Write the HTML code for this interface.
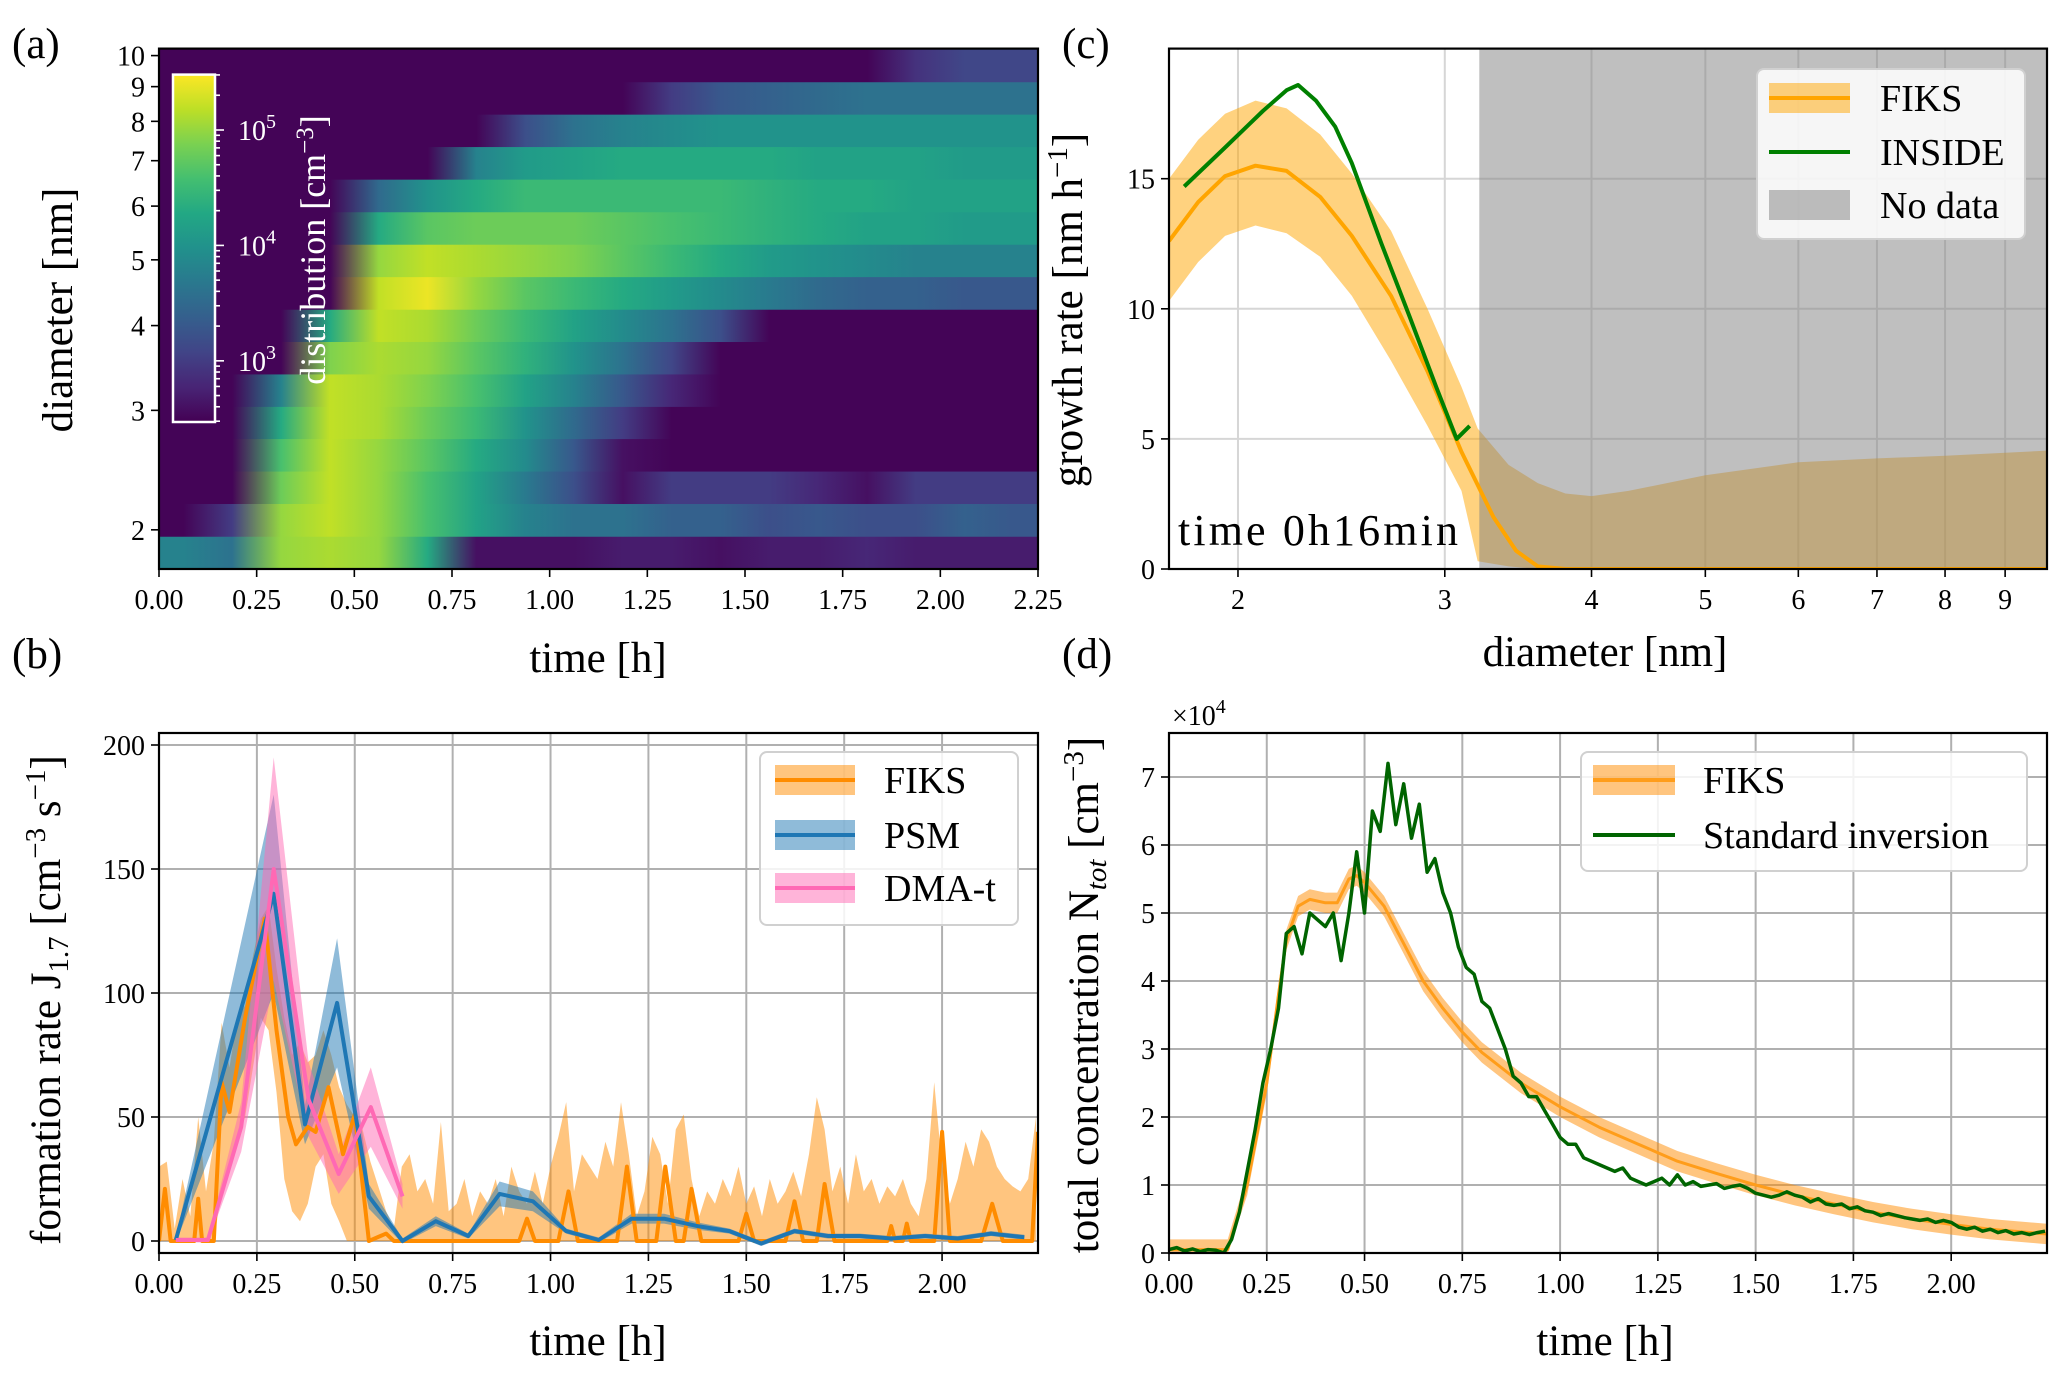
<!DOCTYPE html>
<html><head><meta charset="utf-8">
<style>
html,body{margin:0;padding:0;background:#fff;}
svg{display:block;font-family:"Liberation Serif",serif;}
</style></head>
<body>
<svg id="fig" xmlns="http://www.w3.org/2000/svg" width="2067" height="1381" viewBox="0 0 2067 1381"></svg>
<script>
// ---------- Panel (a) heatmap data ----------
const heatD = [1.85,2.07,2.31,2.58,2.88,3.21,3.59,4.0,4.47,4.99,5.57,6.22,6.95,7.76,8.66,9.67];
const heatT = [0.0625,0.1875,0.3125,0.4375,0.5625,0.6875,0.8125,0.9375,1.0625,1.1875,1.3125,1.4375,1.5625,1.6875,1.8125,1.9375,2.0625,2.1875];
const heatLog = [
[3.8,3.6,5.0,5.1,5.0,4.3,2.6,2.6,2.6,2.7,2.7,2.6,2.7,2.7,2.8,2.7,2.7,2.7],
[2.5,3.0,5.0,5.2,5.0,4.6,4.2,3.8,3.6,3.6,3.4,3.4,3.2,3.3,3.2,3.2,3.4,3.3],
[2.5,2.5,4.8,5.2,5.0,4.6,4.2,3.7,3.2,2.6,3.0,3.0,3.0,2.8,2.6,3.0,3.0,3.0],
[2.5,2.5,4.6,5.2,5.0,4.7,4.3,3.9,3.3,2.6,2.5,2.5,2.5,2.5,2.5,2.5,2.5,2.5],
[2.5,2.5,4.3,5.2,5.1,4.8,4.5,4.0,3.5,3.0,2.5,2.5,2.5,2.5,2.5,2.5,2.5,2.5],
[2.5,2.5,3.8,5.2,5.1,4.9,4.6,4.2,3.8,3.3,2.8,2.5,2.5,2.5,2.5,2.5,2.5,2.5],
[2.5,2.5,2.5,4.9,5.1,5.0,4.7,4.4,4.0,3.6,3.1,2.5,2.5,2.5,2.5,2.5,2.5,2.5],
[2.5,2.5,2.5,4.3,5.2,5.1,4.8,4.5,4.2,3.9,3.6,3.2,2.5,2.5,2.5,2.5,2.5,2.5],
[2.5,2.5,2.5,2.5,5.2,5.4,5.0,4.7,4.5,4.3,4.1,3.9,3.7,3.5,3.4,3.4,3.3,3.3],
[2.5,2.5,2.5,2.5,5.0,5.2,5.1,5.0,4.9,4.7,4.5,4.3,4.1,4.0,3.9,3.8,3.8,3.8],
[2.5,2.5,2.5,2.5,4.3,4.7,4.8,4.8,4.8,4.7,4.6,4.5,4.4,4.3,4.2,4.2,4.1,4.1],
[2.5,2.5,2.5,2.5,3.5,4.0,4.3,4.5,4.5,4.5,4.5,4.5,4.4,4.3,4.3,4.2,4.2,4.2],
[2.5,2.5,2.5,2.5,2.5,2.5,3.8,4.1,4.2,4.3,4.3,4.3,4.3,4.2,4.2,4.2,4.1,4.1],
[2.5,2.5,2.5,2.5,2.5,2.5,2.5,3.2,3.6,3.8,3.9,4.0,4.0,4.0,4.0,4.0,4.0,4.0],
[2.5,2.5,2.5,2.5,2.5,2.5,2.5,2.5,2.5,2.5,3.0,3.3,3.4,3.5,3.6,3.6,3.6,3.6],
[2.5,2.5,2.5,2.5,2.5,2.5,2.5,2.5,2.5,2.5,2.5,2.5,2.5,2.5,2.5,2.9,3.1,3.1]
];
const aXTicks = [0,0.25,0.5,0.75,1.0,1.25,1.5,1.75,2.0,2.25];
const aXLabels = ["0.00","0.25","0.50","0.75","1.00","1.25","1.50","1.75","2.00","2.25"];
const aYTicks = [2,3,4,5,6,7,8,9,10];
const cbTicks = [3,4,5];

// ---------- Panel (b) ----------
const bandStep = 0.02;
const fiksBHi = [30,32,5,25,10,50,20,40,88,70,90,95,115,130,135,110,90,75,80,72,75,85,75,62,55,50,45,32,22,12,5,30,35,20,25,15,48,12,15,25,10,20,15,25,10,30,20,15,28,15,30,42,56,20,35,30,25,40,30,56,35,10,20,42,35,15,45,51,25,10,20,15,25,18,30,15,22,10,25,15,20,28,18,35,58,45,20,30,15,35,20,25,15,22,18,25,15,10,25,64,30,15,25,40,30,45,40,30,25,22,20,25,50];
const fiksBLo = [0,0,0,0,0,0,0,0,20,30,40,50,70,90,85,60,25,12,8,15,30,35,15,8,0,0,0,0,0,0,0,0,0,0,0,0,0,0,0,0,0,0,0,0,0,0,0,0,0,0,0,0,0,0,0,0,0,0,0,0,0,0,0,0,0,0,0,0,0,0,0,0,0,0,0,0,0,0,0,0,0,0,0,0,0,0,0,0,0,0,0,0,0,0,0,0,0,0,0,0,0,0,0,0,0,0,0,0,0,0,0,0,0];
const fiksBT = [0,0.015,0.03,0.09,0.1,0.11,0.14,0.16,0.18,0.22,0.27,0.3,0.33,0.35,0.38,0.4,0.433,0.47,0.5,0.536,0.58,0.6,0.92,0.94,0.96,1.02,1.046,1.07,1.17,1.195,1.22,1.27,1.293,1.32,1.34,1.36,1.385,1.48,1.5,1.52,1.6,1.623,1.645,1.68,1.7,1.725,1.86,1.87,1.88,1.9,1.91,1.92,1.98,2.0,2.02,2.1,2.128,2.155,2.23,2.245];
const fiksBV = [0,21,0,0,17,0,0,64,52,90,130,85,50,39,46,44,62,35,51,0,3,0,0,9,0,0,20,0,0,30,0,0,30,0,0,21,0,0,11,0,0,16,0,0,23,0,0,6,0,0,7,0,0,44,0,0,15,0,0,44];
const psmT = [0.043,0.293,0.373,0.455,0.536,0.622,0.707,0.79,0.87,0.955,1.04,1.123,1.207,1.29,1.375,1.457,1.538,1.623,1.709,1.79,1.87,1.957,2.04,2.125,2.21];
const psmV = [0.4,140,47,96,18,0,8,2,19,16,4,0.4,9,9,6,4,-1,4,2,2,1,2,1,3,1.5];
const psmE = [1,40,8,26,5,1,2,1,5,4,1,1,2,2,1.5,1,1,1,1,1,1,1,1,1,1];
const dmaT = [0.043,0.125,0.21,0.293,0.382,0.459,0.541,0.622];
const dmaV = [0.4,0.4,46,150,57,27,54,18];
const dmaE = [1,1,10,45,15,8,16,5];
const bXTicks = [0,0.25,0.5,0.75,1.0,1.25,1.5,1.75,2.0];
const bXLabels = ["0.00","0.25","0.50","0.75","1.00","1.25","1.50","1.75","2.00"];
const bYTicks = [0,50,100,150,200];

// ---------- Panel (c) ----------
const fiksCD = [1.747,1.85,1.95,2.07,2.2,2.35,2.5,2.7,2.9,3.1,3.3,3.45,3.6,3.8,9.77];
const fiksCV = [12.6,14.1,15.1,15.5,15.3,14.3,12.8,10.5,7.6,4.5,2.0,0.7,0.1,0.0,0.0];
const fiksCBD = [1.747,1.85,1.95,2.07,2.2,2.35,2.5,2.7,2.9,3.1,3.2,3.4,3.6,3.8,4.0,4.3,5.0,6.0,7.0,8.0,9.77];
const fiksCLo = [10.3,11.8,12.8,13.2,12.9,12.0,10.5,8.0,5.5,3.0,0.3,0.1,0,0,0,0,0,0,0,0,0];
const fiksCHi = [15.0,16.5,17.5,18.0,17.7,16.7,15.2,13.0,10.0,7.0,5.4,4.0,3.3,2.9,2.8,3.0,3.6,4.1,4.25,4.35,4.55];
const insideD = [1.8,1.95,2.1,2.2,2.25,2.33,2.42,2.5,2.65,2.8,2.95,3.07,3.15];
const insideV = [14.7,16.2,17.6,18.4,18.6,18.0,17.0,15.6,12.5,9.7,7.0,5.0,5.5];
const noDataStart = 3.21;
const cXTicks = [2,3,4,5,6,7,8,9];
const cYTicks = [0,5,10,15];

// ---------- Panel (d) ----------
const fiksDT = [0,0.15,0.2,0.25,0.28,0.3,0.33,0.36,0.4,0.43,0.46,0.48,0.5,0.55,0.6,0.65,0.7,0.75,0.8,0.9,1.0,1.1,1.2,1.3,1.4,1.5,1.6,1.7,1.8,1.9,2.0,2.1,2.245];
const fiksDV = [0.05,0.05,1.0,2.5,3.8,4.6,5.1,5.2,5.15,5.15,5.5,5.55,5.45,5.1,4.55,4.0,3.6,3.25,2.95,2.5,2.15,1.85,1.6,1.35,1.17,1.0,0.85,0.72,0.6,0.5,0.42,0.35,0.28];
const fiksDE = 0.15;
const stdStep = 0.02;
const stdV = [0.05,0.08,0.03,0.06,0.02,0.05,0.04,0.0,0.2,0.6,1.2,1.8,2.5,3.0,3.6,4.7,4.8,4.4,5.0,4.9,4.8,5.0,4.3,5.0,5.9,5.0,6.5,6.2,7.2,6.3,6.9,6.1,6.6,5.6,5.8,5.3,5.0,4.5,4.2,4.1,3.7,3.6,3.3,3.0,2.6,2.5,2.3,2.3,2.1,1.9,1.7,1.6,1.6,1.4,1.35,1.3,1.25,1.2,1.25,1.1,1.05,1.0,1.05,1.1,1.0,1.15,1.0,1.05,0.98,1.0,1.02,0.95,0.98,1.0,0.95,0.88,0.85,0.82,0.85,0.9,0.85,0.82,0.75,0.8,0.72,0.7,0.72,0.65,0.68,0.62,0.6,0.55,0.58,0.55,0.52,0.5,0.48,0.5,0.45,0.48,0.45,0.38,0.35,0.38,0.32,0.35,0.3,0.33,0.28,0.3,0.27,0.3,0.32];
const dXTicks = [0,0.25,0.5,0.75,1.0,1.25,1.5,1.75,2.0];
const dXLabels = ["0.00","0.25","0.50","0.75","1.00","1.25","1.50","1.75","2.00"];
const dYTicks = [0,1,2,3,4,5,6,7];

// ---------- helpers ----------
const NS = "http://www.w3.org/2000/svg";
const svg = document.getElementById('fig');
function add(parent, tag, attrs, name) {
  const el = document.createElementNS(NS, tag);
  for (const k in attrs) el.setAttribute(k, attrs[k]);
  
  
  parent.appendChild(el);
  return el;
}
function txt(parent, x, y, s, size, name, extra) {
  const a = Object.assign({x: x, y: y, 'font-size': size, fill: '#000'}, extra || {});
  const t = add(parent, 'text', a, name);
  t.textContent = s;
  return t;
}
function lin(d0,d1,r0,r1){return v=>r0+(v-d0)/(d1-d0)*(r1-r0);}
function lg(d0,d1,r0,r1){const a=Math.log10(d0),b=Math.log10(d1);return v=>r0+(Math.log10(v)-a)/(b-a)*(r1-r0);}
function pts(xs, ys, fx, fy){return xs.map((x,i)=>fx(x).toFixed(1)+','+fy(ys[i]).toFixed(1)).join(' ');}
function bandPts(xs, lo, hi, fx, fy){
  const up = xs.map((x,i)=>fx(x).toFixed(1)+','+fy(hi[i]).toFixed(1));
  const dn = xs.map((x,i)=>fx(x).toFixed(1)+','+fy(lo[i]).toFixed(1)).reverse();
  return up.concat(dn).join(' ');
}
const vir = ['#440154','#482475','#414487','#355f8d','#2a788e','#21918c','#22a884','#44bf70','#7ad151','#bddf26','#fde725'];
function hex2(c){return [1,3,5].map(i=>parseInt(c.substr(i,2),16));}
function viridis(f){
  f=Math.max(0,Math.min(1,f));const p=f*10,i=Math.min(9,Math.floor(p)),r=p-i;
  const a=hex2(vir[i]),b=hex2(vir[i+1]);
  return 'rgb('+a.map((v,k)=>Math.round(v+(b[k]-v)*r)).join(',')+')';
}
const defs = add(svg,'defs',{},'defs');
function clip(id,x0,y0,x1,y1){const c=add(defs,'clipPath',{id:id},id);add(c,'rect',{x:x0,y:y0,width:x1-x0,height:y1-y0},id+'-rect');}
function frame(g,x0,y0,x1,y1,name){add(g,'rect',{x:x0,y:y0,width:x1-x0,height:y1-y0,fill:'none',stroke:'#000','stroke-width':2.2},name);}
function xTicks(g,vals,labels,fx,yb,name,len){
  vals.forEach((v,i)=>{const x=fx(v);
    add(g,'line',{x1:x,y1:yb,x2:x,y2:yb+(len||8),stroke:'#000','stroke-width':1.6},name+'-tick');
    if(labels) txt(g,x,yb+40,labels[i],28,name+'-label',{'text-anchor':'middle'});});
}
function yTicks(g,vals,labels,fy,xl,name){
  vals.forEach((v,i)=>{const y=fy(v);
    add(g,'line',{x1:xl,y1:y,x2:xl-8,y2:y,stroke:'#000','stroke-width':1.6},name+'-tick');
    txt(g,xl-14,y+10,labels[i],28,name+'-label',{'text-anchor':'end'});});
}
function grid(g,xs,ys,fx,fy,x0,y0,x1,y1,name,col){
  xs.forEach(v=>add(g,'line',{x1:fx(v),y1:y0,x2:fx(v),y2:y1,stroke:col||'#b0b0b0','stroke-width':2},name+'-vgrid'));
  ys.forEach(v=>add(g,'line',{x1:x0,y1:fy(v),x2:x1,y2:fy(v),stroke:col||'#b0b0b0','stroke-width':2},name+'-hgrid'));
}
function vlabel(g,x,y,s,name,size){return txt(g,x,y,s,size||43,name,{'text-anchor':'middle',transform:'rotate(-90 '+x+' '+y+')'});}
function legendBox(g,x0,y0,x1,y1,name){add(g,'rect',{x:x0,y:y0,width:x1-x0,height:y1-y0,rx:7,fill:'rgba(255,255,255,0.85)',stroke:'#d0d0d0','stroke-width':2},name);}

// ============ Panel (a) ============
(function(){
  const g = add(svg,'g',{},'panel-a');
  const X0=159,X1=1038,Y0=48.6,Y1=569;
  const fx=lin(0,2.25,X0,X1), fy=lg(1.751,10.24,Y1,Y0);
  const vmin=2.47,vmax=5.48;
  const hm = add(g,'g',{},'heatmap');
  add(hm,'rect',{x:X0,y:Y0,width:X1-X0,height:Y1-Y0,fill:viridis(0)},'heatmap-background');
  heatD.forEach((d,r)=>{
    const lo = r===0?1.751:Math.sqrt(heatD[r-1]*d);
    const hi = r===heatD.length-1?10.24:Math.sqrt(heatD[r+1]*d);
    const gid='hg'+r;
    const lgd=add(defs,'linearGradient',{id:gid,x1:X0,x2:X1,y1:0,y2:0,gradientUnits:'userSpaceOnUse'},'row-gradient');
    heatT.forEach((t,c)=>{
      add(lgd,'stop',{offset:((fx(t)-X0)/(X1-X0)).toFixed(4),'stop-color':viridis((heatLog[r][c]-vmin)/(vmax-vmin))},'gradient-stop');
    });
    add(hm,'rect',{x:X0,y:fy(hi),width:X1-X0,height:fy(lo)-fy(hi)+0.5,fill:'url(#'+gid+')'},'heatmap-row');
  });
  const cb=add(defs,'linearGradient',{id:'cbg',x1:0,x2:0,y1:1,y2:0},'colorbar-gradient');
  for(let i=0;i<=10;i++) add(cb,'stop',{offset:i/10,'stop-color':vir[i]},'colorbar-stop');
  const CX0=173,CX1=215,CY0=74.6,CY1=422;
  const fc=lin(2.47,5.48,CY1,CY0);
  add(g,'rect',{x:CX0,y:CY0,width:CX1-CX0,height:CY1-CY0,fill:'url(#cbg)',stroke:'#fff','stroke-width':2.5},'colorbar');
  for(let dec=2;dec<=5;dec++){for(let m=1;m<=9;m++){const v=dec+Math.log10(m);if(v<2.47||v>5.48)continue;
    const y=fc(v);add(g,'line',{x1:CX1,y1:y,x2:CX1+(m===1?9:5),y2:y,stroke:'#fff','stroke-width':1.6},'colorbar-tick');}}
  cbTicks.forEach(v=>{const t=txt(g,238,fc(v)+10,'10',28,'colorbar-tick-label',{fill:'#fff'});
    const s=add(t,'tspan',{dy:-12,'font-size':20},'exponent');s.textContent=String(v);});
  const cl=vlabel(g,325,250,'distribution [cm',  'colorbar-label',36);cl.setAttribute('fill','#fff');
  const s1=add(cl,'tspan',{dy:-12,'font-size':25},'exponent');s1.textContent='−3';
  const s2=add(cl,'tspan',{dy:12},'bracket');s2.textContent=']';
  frame(g,X0,Y0,X1,Y1,'panel-a-frame');
  xTicks(g,aXTicks,aXLabels,fx,Y1,'a-x');
  yTicks(g,aYTicks,aYTicks.map(String),fy,X0,'a-y');
  txt(g,598,672,'time [h]',43,'a-x-title',{'text-anchor':'middle'});
  vlabel(g,72,310,'diameter [nm]','a-y-title');
  txt(g,12,58,'(a)',43,'panel-a-letter');
})();

// ============ Panel (b) ============
(function(){
  const g = add(svg,'g',{},'panel-b');
  const X0=159,X1=1038,Y0=733,Y1=1253;
  const fx=lin(0,2.245,X0,X1), fy=lin(0,200,1241,745);
  clip('clipb',X0,Y0,X1,Y1);
  grid(g,bXTicks,bYTicks,fx,fy,X0,Y0,X1,Y1,'b');
  const p=add(g,'g',{'clip-path':'url(#clipb)'},'b-plot');
  const bt=fiksBHi.map((_,i)=>i*bandStep);
  add(p,'polygon',{points:bandPts(bt,fiksBLo,fiksBHi,fx,fy),fill:'rgba(255,140,0,0.5)'},'fiks-band');
  add(p,'polygon',{points:bandPts(psmT,psmV.map((v,i)=>v-psmE[i]),psmV.map((v,i)=>v+psmE[i]),fx,fy),fill:'rgba(31,119,180,0.5)'},'psm-band');
  add(p,'polygon',{points:bandPts(dmaT,dmaV.map((v,i)=>v-dmaE[i]),dmaV.map((v,i)=>v+dmaE[i]),fx,fy),fill:'rgba(255,105,180,0.5)'},'dma-band');
  add(p,'polyline',{points:pts(fiksBT,fiksBV,fx,fy),fill:'none',stroke:'#ff8c00','stroke-width':4,'stroke-linejoin':'round'},'fiks-line');
  add(p,'polyline',{points:pts(psmT,psmV,fx,fy),fill:'none',stroke:'#1f77b4','stroke-width':4,'stroke-linejoin':'round'},'psm-line');
  add(p,'polyline',{points:pts(dmaT,dmaV,fx,fy),fill:'none',stroke:'#ff69b4','stroke-width':4,'stroke-linejoin':'round'},'dma-line');
  frame(g,X0,Y0,X1,Y1,'panel-b-frame');
  xTicks(g,bXTicks,bXLabels,fx,Y1,'b-x');
  yTicks(g,bYTicks,bYTicks.map(String),fy,X0,'b-y');
  txt(g,598,1355,'time [h]',43,'b-x-title',{'text-anchor':'middle'});
  const yl=vlabel(g,60,1000,'formation rate J','b-y-title');
  const a=add(yl,'tspan',{dy:8,'font-size':29},'subscript');a.textContent='1.7';
  const b=add(yl,'tspan',{dy:-8},'units');b.textContent=' [cm';
  const c=add(yl,'tspan',{dy:-15,'font-size':29},'exponent');c.textContent='−3';
  const d=add(yl,'tspan',{dy:15},'units');d.textContent=' s';
  const e=add(yl,'tspan',{dy:-15,'font-size':29},'exponent');e.textContent='−1';
  const f=add(yl,'tspan',{dy:15},'units');f.textContent=']';
  txt(g,12,668,'(b)',43,'panel-b-letter');
  legendBox(g,760,752,1018,925,'b-legend');
  const rows=[[780,'rgba(255,140,0,0.5)','#ff8c00','FIKS'],[835,'rgba(31,119,180,0.5)','#1f77b4','PSM'],[888,'rgba(255,105,180,0.5)','#ff69b4','DMA-t']];
  rows.forEach(r=>{add(g,'rect',{x:775,y:r[0]-15,width:80,height:30,fill:r[1]},'legend-patch');
    add(g,'line',{x1:775,y1:r[0],x2:855,y2:r[0],stroke:r[2],'stroke-width':4},'legend-line');
    txt(g,884,r[0]+13,r[3],38,'legend-entry');});
})();

// ============ Panel (c) ============
(function(){
  const g = add(svg,'g',{},'panel-c');
  const X0=1169,X1=2047,Y0=48.6,Y1=569;
  const fx=lg(1.747,9.77,X0,X1), fy=lin(0,20,Y1,Y0);
  clip('clipc',X0,Y0,X1,Y1);
  grid(g,cXTicks,cYTicks,fx,fy,X0,Y0,X1,Y1,'c','#d6d6d6');
  const p=add(g,'g',{'clip-path':'url(#clipc)'},'c-plot');
  add(p,'polygon',{points:bandPts(fiksCBD,fiksCLo,fiksCHi,fx,fy),fill:'rgba(255,165,0,0.5)'},'fiks-band');
  add(p,'rect',{x:fx(noDataStart),y:Y0,width:X1-fx(noDataStart),height:Y1-Y0,fill:'rgba(128,128,128,0.5)'},'no-data-region');
  add(p,'polyline',{points:pts(fiksCD,fiksCV,fx,fy),fill:'none',stroke:'#ffa500','stroke-width':4,'stroke-linejoin':'round'},'fiks-line');
  add(p,'polyline',{points:pts(insideD,insideV,fx,fy),fill:'none',stroke:'#008000','stroke-width':4,'stroke-linejoin':'round'},'inside-line');
  frame(g,X0,Y0,X1,Y1,'panel-c-frame');
  xTicks(g,cXTicks,cXTicks.map(String),fx,Y1,'c-x');
  yTicks(g,cYTicks,cYTicks.map(String),fy,X0,'c-y');
  txt(g,1605,666,'diameter [nm]',43,'c-x-title',{'text-anchor':'middle'});
  const yl=vlabel(g,1082,310,'growth rate [nm h','c-y-title');
  const a=add(yl,'tspan',{dy:-15,'font-size':29},'exponent');a.textContent='−1';
  const b=add(yl,'tspan',{dy:15},'bracket');b.textContent=']';
  txt(g,1178,545,'time 0h16min',44,'time-annotation',{textLength:280});
  txt(g,1062,58,'(c)',43,'panel-c-letter');
  legendBox(g,1757,69,2025,239,'c-legend');
  add(g,'rect',{x:1769,y:83,width:81,height:30,fill:'rgba(255,165,0,0.5)'},'legend-patch');
  add(g,'line',{x1:1769,y1:98,x2:1850,y2:98,stroke:'#ffa500','stroke-width':4},'legend-line');
  txt(g,1880,111,'FIKS',38,'legend-entry');
  add(g,'line',{x1:1769,y1:152,x2:1850,y2:152,stroke:'#008000','stroke-width':4},'legend-line');
  txt(g,1880,165,'INSIDE',38,'legend-entry');
  add(g,'rect',{x:1769,y:190,width:81,height:30,fill:'rgba(128,128,128,0.5)'},'legend-patch');
  txt(g,1880,218,'No data',38,'legend-entry');
})();

// ============ Panel (d) ============
(function(){
  const g = add(svg,'g',{},'panel-d');
  const X0=1169,X1=2047,Y0=733,Y1=1253;
  const fx=lin(0,2.245,X0,X1), fy=lin(0,7,Y1,777);
  clip('clipd',X0,Y0,X1,Y1);
  grid(g,dXTicks,dYTicks,fx,fy,X0,Y0,X1,Y1,'d');
  const p=add(g,'g',{'clip-path':'url(#clipd)'},'d-plot');
  add(p,'polygon',{points:bandPts(fiksDT,fiksDV.map(v=>Math.max(0,v-fiksDE)),fiksDV.map(v=>v+fiksDE),fx,fy),fill:'rgba(255,140,0,0.5)'},'fiks-band');
  add(p,'polyline',{points:pts(fiksDT,fiksDV,fx,fy),fill:'none',stroke:'#ff9d1a','stroke-width':3,'stroke-linejoin':'round'},'fiks-line');
  const st=stdV.map((_,i)=>i*stdStep);
  add(p,'polyline',{points:pts(st,stdV,fx,fy),fill:'none',stroke:'#006400','stroke-width':3.5,'stroke-linejoin':'round'},'standard-inversion-line');
  frame(g,X0,Y0,X1,Y1,'panel-d-frame');
  xTicks(g,dXTicks,dXLabels,fx,Y1,'d-x');
  yTicks(g,dYTicks,dYTicks.map(String),fy,X0,'d-y');
  txt(g,1605,1355,'time [h]',43,'d-x-title',{'text-anchor':'middle'});
  const yl=vlabel(g,1098,995,'total concentration N','d-y-title');
  const a=add(yl,'tspan',{dy:8,'font-size':29,'font-style':'italic'},'subscript');a.textContent='tot';
  const b=add(yl,'tspan',{dy:-8},'units');b.textContent=' [cm';
  const c=add(yl,'tspan',{dy:-15,'font-size':29},'exponent');c.textContent='−3';
  const d=add(yl,'tspan',{dy:15},'bracket');d.textContent=']';
  const m=txt(g,1172,725,'×10',28,'d-offset-label');
  const me=add(m,'tspan',{dy:-12,'font-size':20},'exponent');me.textContent='4';
  txt(g,1062,668,'(d)',43,'panel-d-letter');
  legendBox(g,1581,752,2027,871,'d-legend');
  add(g,'rect',{x:1593,y:765,width:82,height:30,fill:'rgba(255,140,0,0.5)'},'legend-patch');
  add(g,'line',{x1:1593,y1:780,x2:1675,y2:780,stroke:'#ff9d1a','stroke-width':4},'legend-line');
  txt(g,1703,793,'FIKS',38,'legend-entry');
  add(g,'line',{x1:1593,y1:835,x2:1675,y2:835,stroke:'#006400','stroke-width':4},'legend-line');
  txt(g,1703,848,'Standard inversion',38,'legend-entry');
})();
</script>
</body></html>
